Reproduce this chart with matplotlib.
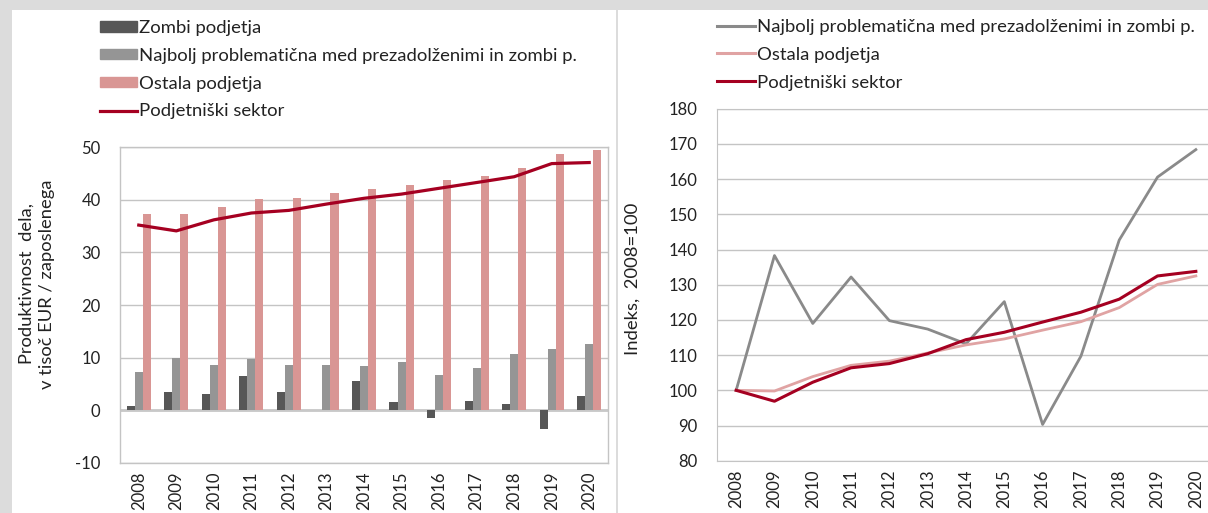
import numpy as np
import matplotlib
matplotlib.use('Agg')
import matplotlib.pyplot as plt
from matplotlib.patches import Rectangle, Patch
from matplotlib.lines import Line2D

plt.rcParams['font.family'] = ['Lato', 'DejaVu Sans']
plt.rcParams['axes.unicode_minus'] = False

years = ['2008', '2009', '2010', '2011', '2012', '2013', '2014',
         '2015', '2016', '2017', '2018', '2019', '2020']

# productivity, thousand EUR per employee
zombi = [0.7, 3.4, 3.1, 6.4, 3.4, 0.1, 5.6, 1.5, -1.5, 1.8, 1.2, -3.6, 2.6]
najbolj = [7.3, 10.0, 8.6, 9.8, 8.6, 8.6, 8.4, 9.2, 6.7, 8.1, 10.6, 11.7, 12.5]
ostala = [37.4, 37.4, 38.7, 40.1, 40.4, 41.4, 42.0, 42.9, 43.7, 44.5, 46.1, 48.7, 49.5]
sektor = [35.2, 34.1, 36.2, 37.5, 38.0, 39.2, 40.3, 41.1, 42.2, 43.3, 44.4, 46.9, 47.1]

# index, 2008 = 100
idx_najbolj = [100, 138.3, 119.0, 132.2, 119.8, 117.4, 113.2, 125.2, 90.3, 109.7, 142.7, 160.6, 168.4]
idx_ostala = [100, 99.8, 103.9, 107.1, 108.3, 110.6, 112.9, 114.6, 117.1, 119.5, 123.5, 130.1, 132.5]
idx_sektor = [100, 96.9, 102.3, 106.4, 107.6, 110.4, 114.4, 116.5, 119.4, 122.2, 125.9, 132.5, 133.8]

lab_zombi = 'Zombi podjetja'
lab_najbolj = 'Najbolj problematična med prezadolženimi in zombi p.'
lab_ostala = 'Ostala podjetja'
lab_sektor = 'Podjetniški sektor'

c_dark = '#575757'
c_gray = '#959595'
c_pink = '#d99694'
c_pink_line = '#e0a3a3'
c_red = '#a50021'
c_grid = '#c4c4c4'
c_text = '#222222'

W, H = 1208, 513
fig = plt.figure(figsize=(W / 100, H / 100), dpi=100, facecolor='#dcdcdc')

# white panels behind both charts
fig.patches.append(Rectangle((12 / W, 0), (616 - 12) / W, (H - 10) / H,
                             transform=fig.transFigure, facecolor='white', edgecolor='none', zorder=-10))
fig.patches.append(Rectangle((618 / W, 0), (W - 618) / W, (H - 10) / H,
                             transform=fig.transFigure, facecolor='white', edgecolor='none', zorder=-10))

x = np.arange(len(years))

# ---------- left chart ----------
ax1 = fig.add_axes([120 / W, (H - 462.7) / H, 488 / W, 315.4 / H])
ax1.set_facecolor('none')
bw = 0.215
ax1.bar(x - bw, zombi, bw, color=c_dark, zorder=3)
ax1.bar(x, najbolj, bw, color=c_gray, zorder=3)
ax1.bar(x + bw, ostala, bw, color=c_pink, zorder=3)
ax1.plot(x, sektor, color=c_red, lw=2.3, zorder=4)
ax1.axhline(0, color='#c8c8c8', lw=2, zorder=2)

ax1.set_xlim(-0.5, len(years) - 0.5)
ax1.set_ylim(-10, 50)
ax1.set_yticks(range(-10, 51, 10))
ax1.set_xticks(x)
ax1.set_xticklabels(years, rotation=90)
ax1.grid(axis='y', color=c_grid, lw=1, zorder=1)
for s in ax1.spines.values():
    s.set_color(c_grid)
    s.set_linewidth(1)
ax1.tick_params(axis='both', length=0, labelsize=12, colors=c_text)
ax1.tick_params(axis='y', pad=14)
ax1.tick_params(axis='x', pad=6)

fig.text(37 / W, 1 - 284 / H, 'Produktivnost  dela,\nv tisoč EUR / zaposlenega',
         rotation=90, ha='center', va='center', fontsize=13.2, color=c_text, linespacing=1.3)

h1 = [Patch(color=c_dark), Patch(color=c_gray), Patch(color=c_pink),
      Line2D([], [], color=c_red, lw=2.3)]
fig.legend(h1, [lab_zombi, lab_najbolj, lab_ostala, lab_sektor],
           loc='upper left', bbox_to_anchor=(100 / W, 1 - 20 / H), frameon=False,
           fontsize=13.3, handlelength=2.0, handleheight=0.47, handletextpad=0.12,
           labelspacing=0.64, borderpad=0, borderaxespad=0, labelcolor=c_text)

# ---------- right chart ----------
ax2 = fig.add_axes([717 / W, (H - 460.7) / H, 498 / W, 351.9 / H])
ax2.set_facecolor('none')
ax2.plot(x, idx_najbolj, color='#8a8a8a', lw=2.0, zorder=3)
ax2.plot(x, idx_ostala, color=c_pink_line, lw=2.0, zorder=3)
ax2.plot(x, idx_sektor, color=c_red, lw=2.2, zorder=4)

ax2.set_xlim(-0.5, len(years) - 0.5)
ax2.set_ylim(80, 180)
ax2.set_yticks(range(80, 181, 10))
ax2.set_xticks(x)
ax2.set_xticklabels(years, rotation=90)
ax2.grid(axis='y', color=c_grid, lw=1, zorder=1)
ax2.spines['right'].set_visible(False)
ax2.spines['top'].set_color(c_grid)
ax2.spines['left'].set_color(c_grid)
ax2.spines['bottom'].set_color(c_grid)
ax2.tick_params(axis='both', length=0, labelsize=12, colors=c_text)
ax2.tick_params(axis='y', pad=14)
ax2.tick_params(axis='x', pad=6)

fig.text(633 / W, 1 - 279 / H, 'Indeks,  2008=100', rotation=90,
         ha='center', va='center', fontsize=13.3, color=c_text)

h2 = [Line2D([], [], color='#8a8a8a', lw=2.2), Line2D([], [], color=c_pink_line, lw=2.2),
      Line2D([], [], color=c_red, lw=2.2)]
fig.legend(h2, [lab_najbolj, lab_ostala, lab_sektor],
           loc='upper left', bbox_to_anchor=(717 / W, 1 - 19 / H), frameon=False,
           fontsize=13.3, handlelength=2.05, handletextpad=0.12,
           labelspacing=0.64, borderpad=0, borderaxespad=0, labelcolor=c_text)

fig.savefig('out.png', dpi=100, facecolor=fig.get_facecolor())
